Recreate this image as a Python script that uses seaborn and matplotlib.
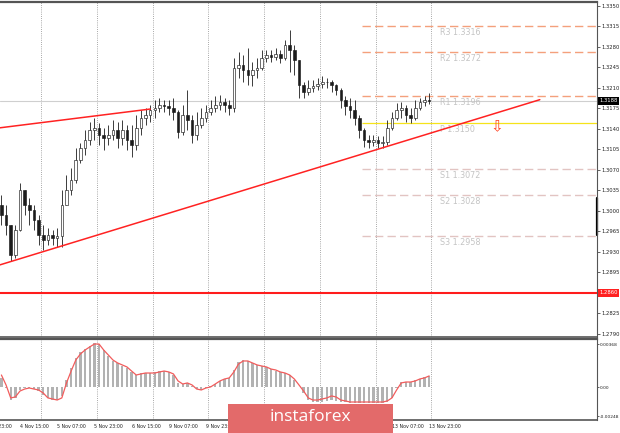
import numpy as np
import pandas as pd
import matplotlib
matplotlib.use('Agg')
import matplotlib.pyplot as plt
import matplotlib.transforms as mtransforms
from matplotlib.patches import Rectangle
import seaborn as sns

sns.set_style('white')
plt.rcParams['font.family'] = ['DejaVu Sans']

# 2-hour bars, 4 Nov 07:00 .. 13 Nov 23:00 (GBP/USD style quotes)
first_open = 1.3010
closes = [1.2993, 1.2976, 1.2925, 1.2968, 1.3036, 1.3010, 1.3002, 1.2985, 1.2959, 1.2950,
          1.2959, 1.2954, 1.2957, 1.3010, 1.3036, 1.3053, 1.3087, 1.3108, 1.3121, 1.3138,
          1.3142, 1.3130, 1.3125, 1.3130, 1.3138, 1.3125, 1.3138, 1.3121, 1.3113, 1.3142,
          1.3159, 1.3164, 1.3172, 1.3176, 1.3181, 1.3179, 1.3176, 1.3169, 1.3135, 1.3164,
          1.3155, 1.3130, 1.3147, 1.3159, 1.3169, 1.3176, 1.3181, 1.3186, 1.3181, 1.3176,
          1.3244, 1.3250, 1.3241, 1.3232, 1.3241, 1.3244, 1.3261, 1.3266, 1.3263, 1.3268,
          1.3261, 1.3283, 1.3275, 1.3258, 1.3215, 1.3203, 1.3210, 1.3213, 1.3217, 1.3220,
          1.3220, 1.3215, 1.3207, 1.3190, 1.3179, 1.3172, 1.3159, 1.3138, 1.3121, 1.3118,
          1.3121, 1.3116, 1.3118, 1.3142, 1.3159, 1.3172, 1.3176, 1.3164, 1.3159, 1.3176,
          1.3186, 1.3190, 1.3188]
highs = [1.3027, 1.3010, 1.2976, 1.2976, 1.3048, 1.3032, 1.3022, 1.3010, 1.2993, 1.2976,
         1.2971, 1.2968, 1.2971, 1.3036, 1.3061, 1.3073, 1.3108, 1.3116, 1.3138, 1.3152,
         1.3159, 1.3150, 1.3142, 1.3147, 1.3155, 1.3152, 1.3155, 1.3147, 1.3147, 1.3164,
         1.3172, 1.3176, 1.3181, 1.3190, 1.3193, 1.3190, 1.3190, 1.3193, 1.3172, 1.3181,
         1.3207, 1.3164, 1.3169, 1.3176, 1.3181, 1.3190, 1.3196, 1.3198, 1.3193, 1.3190,
         1.3261, 1.3271, 1.3266, 1.3278, 1.3255, 1.3261, 1.3275, 1.3275, 1.3275, 1.3278,
         1.3275, 1.3292, 1.3309, 1.3283, 1.3258, 1.3220, 1.3224, 1.3224, 1.3227, 1.3230,
         1.3227, 1.3224, 1.3217, 1.3210, 1.3196, 1.3193, 1.3190, 1.3164, 1.3142, 1.3130,
         1.3130, 1.3128, 1.3128, 1.3155, 1.3169, 1.3184, 1.3186, 1.3181, 1.3176, 1.3190,
         1.3193, 1.3196, 1.3201]
lows = [1.2976, 1.2959, 1.2915, 1.2920, 1.2965, 1.2993, 1.2976, 1.2968, 1.2942, 1.2933,
        1.2942, 1.2942, 1.2938, 1.2938, 1.3010, 1.3027, 1.3048, 1.3082, 1.3096, 1.3113,
        1.3121, 1.3113, 1.3104, 1.3113, 1.3121, 1.3108, 1.3113, 1.3104, 1.3092, 1.3104,
        1.3130, 1.3147, 1.3152, 1.3159, 1.3169, 1.3169, 1.3164, 1.3155, 1.3125, 1.3130,
        1.3138, 1.3116, 1.3121, 1.3142, 1.3152, 1.3164, 1.3169, 1.3172, 1.3169, 1.3164,
        1.3169, 1.3227, 1.3220, 1.3215, 1.3213, 1.3227, 1.3241, 1.3255, 1.3255, 1.3258,
        1.3253, 1.3258, 1.3237, 1.3232, 1.3193, 1.3193, 1.3198, 1.3203, 1.3207, 1.3210,
        1.3210, 1.3203, 1.3198, 1.3176, 1.3164, 1.3159, 1.3147, 1.3125, 1.3109, 1.3108,
        1.3111, 1.3108, 1.3108, 1.3113, 1.3138, 1.3155, 1.3159, 1.3152, 1.3150, 1.3155,
        1.3172, 1.3179, 1.3183]

# MACD panel
macd_hist = [0.00080, -0.00006, -0.00109, -0.00091, -0.00023, -0.00006, -0.00006, -0.00015, -0.00032, -0.00066,
             -0.00091, -0.00109, -0.00109, -0.00074, 0.00062, 0.00165, 0.00251, 0.00302, 0.00327, 0.00353,
             0.00379, 0.00370, 0.00319, 0.00268, 0.00225, 0.00208, 0.00182, 0.00165, 0.00131, 0.00105,
             0.00122, 0.00122, 0.00122, 0.00131, 0.00139, 0.00139, 0.00131, 0.00105, 0.00037, 0.00028,
             0.00037, 0.00011, -0.00015, -0.00023, -0.00006, 0.00011, 0.00028, 0.00054, 0.00071, 0.00080,
             0.00148, 0.00216, 0.00233, 0.00225, 0.00208, 0.00191, 0.00182, 0.00174, 0.00156, 0.00139,
             0.00131, 0.00122, 0.00105, 0.00062, 0.00003, -0.00049, -0.00109, -0.00126, -0.00126, -0.00126,
             -0.00117, -0.00109, -0.00117, -0.00126, -0.00126, -0.00134, -0.00134, -0.00134, -0.00134, -0.00134,
             -0.00134, -0.00134, -0.00134, -0.00126, -0.00091, -0.00006, 0.00045, 0.00045, 0.00045, 0.00062,
             0.00071, 0.00088, 0.00097]
macd_signal = [0.00105, 0.00020, -0.00091, -0.00083, -0.00032, -0.00015, -0.00006, -0.00015, -0.00023, -0.00049,
               -0.00091, -0.00100, -0.00109, -0.00091, 0.00037, 0.00139, 0.00233, 0.00285, 0.00319, 0.00345,
               0.00370, 0.00370, 0.00319, 0.00276, 0.00233, 0.00208, 0.00191, 0.00174, 0.00139, 0.00105,
               0.00114, 0.00122, 0.00122, 0.00122, 0.00131, 0.00139, 0.00131, 0.00114, 0.00054, 0.00028,
               0.00037, 0.00020, -0.00015, -0.00023, -0.00006, 0.00003, 0.00028, 0.00054, 0.00071, 0.00080,
               0.00131, 0.00199, 0.00225, 0.00225, 0.00208, 0.00191, 0.00182, 0.00174, 0.00156, 0.00148,
               0.00131, 0.00122, 0.00105, 0.00071, 0.00020, -0.00032, -0.00091, -0.00109, -0.00109, -0.00100,
               -0.00091, -0.00074, -0.00083, -0.00109, -0.00117, -0.00126, -0.00126, -0.00126, -0.00126, -0.00126,
               -0.00126, -0.00126, -0.00126, -0.00117, -0.00091, -0.00023, 0.00037, 0.00045, 0.00045, 0.00054,
               0.00071, 0.00080, 0.00097]

price_ticks = [1.3350, 1.3315, 1.3280, 1.3245, 1.3210, 1.3175, 1.3140, 1.3105, 1.3070,
               1.3035, 1.3000, 1.2965, 1.2930, 1.2895, 1.2860, 1.2825, 1.2790]
macd_ticks = [0.00368, 0.0, -0.00248]
macd_tick_labels = ['0.00368', '0.00', '-0.00248']

time_labels = ['3 Nov 23:00', '4 Nov 15:00', '5 Nov 07:00', '5 Nov 23:00', '6 Nov 15:00',
               '9 Nov 07:00', '9 Nov 23:00', '10 Nov 15:00', '11 Nov 07:00', '11 Nov 23:00',
               '12 Nov 15:00', '13 Nov 07:00', '13 Nov 23:00']
time_label_bars = [-4, 4, 12, 20, 28, 36, 44, 52, 60, 68, 76, 84, 92]
day_breaks = [8.5, 20.5, 32.5, 44.5, 56.5, 68.5, 80.5, 92.5]

# pivot levels
level_names = ['R3', 'R2', 'R1', 'P', 'S1', 'S2', 'S3']
level_values = [1.3316, 1.3272, 1.3196, 1.3150, 1.3072, 1.3028, 1.2958]
level_start_bar = 77.5
level_label_bar = 94.3

support_price = 1.2860
bid_price = 1.3188
trend_low_x, trend_low_y = [-0.3, 115.8], [1.2908, 1.3190]
trend_up_x, trend_up_y = [-0.3, 32.0], [1.3142, 1.3174]

# ---------------------------------------------------------------
df = pd.DataFrame({'bar': np.arange(len(closes)), 'close': closes,
                   'high': highs, 'low': lows})
df['open'] = [first_open] + closes[:-1]
df['high'] = df[['high', 'open', 'close']].max(axis=1)
df['low'] = df[['low', 'open', 'close']].min(axis=1)
up = df['close'] >= df['open']

x_left, x_right = -0.3, 128.1

fig = plt.figure(figsize=(6.2, 4.33), dpi=100)
fig.patch.set_facecolor('white')
ax = fig.add_axes([0, 0.2217, 0.9629, 0.7737])
axm = fig.add_axes([0, 0.0300, 0.9629, 0.1871])

# grid
for a in (ax, axm):
    for g in day_breaks:
        a.axvline(g, color='#8c8c8c', ls=(0, (1, 1.6)), lw=0.6, zorder=0.5)

ax.axhline(bid_price, color='#cfcfcf', lw=0.8, zorder=0.6)

# candles
ax.vlines(df['bar'], df['low'], df['high'], color='#1c1c1c', lw=0.6, zorder=2)
body = (df['close'] - df['open']).abs().clip(lower=0.00004)
ax.bar(df['bar'], body, bottom=df[['open', 'close']].min(axis=1), width=0.56,
       color=np.where(up, 'white', '#1c1c1c'), edgecolor='#1c1c1c', linewidth=0.45, zorder=3)

# levels
for name, v in zip(level_names, level_values):
    if name == 'P':
        ax.hlines(v, level_start_bar, x_right, colors='#f5e31a', lw=0.9, zorder=1)
    else:
        c = '#f4a07c' if name.startswith('R') else '#e2c4c2'
        ax.hlines(v, level_start_bar, x_right, colors=c, lw=1.0,
                  linestyles=[(0, (6, 3))], zorder=1)
    ax.annotate(f'{name} {v:.4f}', (level_label_bar, v), xytext=(0, -1.5),
                textcoords='offset points', va='top', ha='left',
                fontsize=5.8, color='#c4c4c4')

ax.axhline(support_price, color='#ff1c1c', lw=1.5, zorder=4)
sns.lineplot(x=trend_low_x, y=trend_low_y, ax=ax, color='#ff2222', lw=1.1, zorder=4)
sns.lineplot(x=trend_up_x, y=trend_up_y, ax=ax, color='#ff2222', lw=1.1, zorder=4)
ax.text(106.6, 1.3143, '\u21e9', color='#ff4020', fontsize=11, ha='center', va='center')

ax.set_xlim(x_left, x_right)
ax.set_ylim(1.27848, 1.33568)
ax.set_xticks([])
ax.yaxis.tick_right()
ax.set_yticks(price_ticks)
# the 1.2860 tick is shown by the red price box instead
ax.set_yticklabels(['' if p == support_price else f'{p:.4f}' for p in price_ticks])
ax.tick_params(axis='y', labelsize=3.8, length=2, width=0.5, pad=1.5, colors='#222222')
ax.set_xlabel('')
ax.set_ylabel('')

trans = mtransforms.blended_transform_factory(ax.transAxes, ax.transData)
ax.text(1.004, bid_price, f'{bid_price:.4f}', transform=trans, fontsize=3.8, color='white',
        va='center', ha='left', bbox=dict(boxstyle='square,pad=0.3', fc='black', ec='none'))
ax.text(1.004, support_price, f'{support_price:.4f}', transform=trans, fontsize=3.8, color='white',
        va='center', ha='left', bbox=dict(boxstyle='square,pad=0.3', fc='#ff2020', ec='none'))
ax.plot([1, 1], [1.2959, 1.3022], transform=trans, color='black', lw=1.6, clip_on=False)

# MACD
axm.bar(df['bar'], macd_hist, width=0.5, color='#b2b2b2', lw=0, zorder=1)
sns.lineplot(x=df['bar'], y=macd_signal, ax=axm, color='#f25c5c', lw=0.9, zorder=3)
axm.set_xlim(x_left, x_right)
axm.set_ylim(-0.00280, 0.00413)
axm.set_xticks([])
axm.yaxis.tick_right()
axm.set_yticks(macd_ticks)
axm.set_yticklabels(macd_tick_labels)
axm.tick_params(axis='y', labelsize=3.2, length=1.2, width=0.5, pad=0.5, colors='#222222')
axm.set_xlabel('')
axm.set_ylabel('')

ttrans = mtransforms.blended_transform_factory(axm.transData, axm.transAxes)
for lab, b in zip(time_labels, time_label_bars):
    axm.text(b, -0.085, lab, transform=ttrans, fontsize=3.4, ha='left', va='center',
             color='#222222', clip_on=False)

for a in (ax, axm):
    a.spines['left'].set_visible(False)
    a.spines['top'].set_linewidth(1.6)
    a.spines['top'].set_color('#555555')
    a.spines['bottom'].set_linewidth(1.2)
    a.spines['bottom'].set_color('#555555')
    a.spines['right'].set_linewidth(0.8)
    a.spines['right'].set_color('#555555')

# watermark
fig.patches.append(Rectangle((228 / 620, 0), 165 / 620, 29 / 433, transform=fig.transFigure,
                             facecolor='#e36a6a', edgecolor='none', zorder=10))
fig.text(310 / 620, 1 - 417 / 433, 'instaforex', color='white', fontsize=12.5,
         ha='center', va='center', family=['Open Sans', 'DejaVu Sans'], zorder=11)

fig.savefig('out.png', dpi=100)
